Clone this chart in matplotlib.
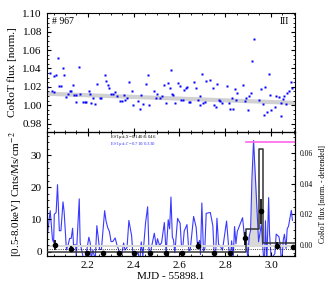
import numpy as np
import matplotlib
matplotlib.use('Agg')
import matplotlib.pyplot as plt
from matplotlib.ticker import MultipleLocator

# CoRoT light curve (time = MJD - 55898.1, normalised flux)
corot_t = [2.023, 2.035, 2.045, 2.050, 2.053, 2.061, 2.067, 2.075, 2.082, 2.091,
           2.096, 2.106, 2.114, 2.120, 2.127, 2.133, 2.137, 2.146, 2.149, 2.162,
           2.166, 2.178, 2.185, 2.191, 2.204, 2.210, 2.214, 2.222, 2.232, 2.239,
           2.251, 2.259, 2.273, 2.279, 2.286, 2.294, 2.301, 2.309, 2.319, 2.327,
           2.338, 2.349, 2.356, 2.362, 2.371, 2.379, 2.391, 2.398, 2.420, 2.426,
           2.433, 2.440, 2.452, 2.461, 2.468, 2.490, 2.499, 2.504, 2.513, 2.522,
           2.534, 2.542, 2.551, 2.557, 2.563, 2.569, 2.574, 2.580, 2.592, 2.603,
           2.609, 2.615, 2.621, 2.627, 2.633, 2.641, 2.647, 2.662, 2.673, 2.679,
           2.688, 2.692, 2.698, 2.705, 2.711, 2.717, 2.735, 2.746, 2.752, 2.758,
           2.764, 2.771, 2.778, 2.788, 2.806, 2.816, 2.823, 2.828, 2.835, 2.841,
           2.847, 2.853, 2.876, 2.888, 2.893, 2.899, 2.905, 2.911, 2.917, 2.924,
           2.946, 2.958, 2.965, 2.971, 2.976, 2.982, 2.990, 2.994, 3.001, 3.017,
           3.023, 3.035, 3.042, 3.046, 3.054, 3.059, 3.066, 3.071, 3.077, 3.089,
           3.094]
corot_flux = [1.0196, 1.0348, 1.0160, 1.0141, 1.0323, 1.0334, 1.0514, 1.0214, 1.0214, 1.0400,
              1.0334, 1.0087, 1.0123, 1.0160, 1.0160, 1.0225, 1.0116, 1.0116, 1.0040, 1.0413,
              1.0127, 1.0040, 1.0033, 1.0040, 1.0160, 1.0123, 1.0022, 1.0073, 1.0011, 1.0232,
              1.0076, 1.0076, 1.0326, 1.0260, 1.0217, 1.0188, 1.0123, 1.0123, 1.0145, 1.0098,
              1.0051, 1.0043, 1.0109, 1.0062, 1.0079, 1.0253, 1.0152, 1.0000, 1.0043, 0.9960,
              1.0109, 1.0014, 1.0232, 1.0334, 0.9997, 1.0160, 1.0073, 1.0123, 1.0079, 1.0095,
              1.0225, 1.0025, 1.0242, 1.0182, 1.0388, 1.0127, 1.0109, 1.0025, 1.0247, 1.0214,
              1.0062, 1.0062, 1.0163, 1.0182, 1.0203, 1.0033, 1.0036, 1.0253, 1.0182, 1.0058,
              1.0095, 1.0003, 1.0337, 1.0022, 1.0040, 1.0268, 1.0272, 1.0185, 0.9997, 0.9978,
              1.0232, 1.0062, 1.0051, 1.0022, 1.0210, 1.0025, 0.9964, 1.0079, 0.9964, 1.0171,
              1.0058, 1.0138, 1.0225, 1.0043, 1.0073, 0.9946, 1.0101, 1.0138, 1.0478, 1.0721,
              1.0062, 1.0174, 1.0014, 0.9891, 1.0196, 0.9924, 1.0345, 1.0109, 0.9949, 0.9978,
              1.0105, 1.0087, 1.0022, 0.9880, 1.0065, 1.0101, 1.0008, 1.0134, 1.0152, 1.0253,
              1.0188]

# linear trend (end points)
trend_t = [2.02, 3.105]
trend_flux = [1.0125, 1.0025]

# X-ray light curve
xray_t = [2.057, 2.127, 2.196, 2.266, 2.334, 2.402, 2.472, 2.541,
          2.611, 2.681, 2.749, 2.819, 2.888, 2.956, 3.026, 3.096]
xray_rate = [2.1, 0.8, -0.3, -0.3, -0.3, -0.3, -0.3, -0.3,
             -0.4, 1.85, -0.4, -0.4, 4.1, 12.5, 1.85, 1.35]
xray_err = [1.5, 0.9, 0, 0, 0, 0, 0, 0,
            0, 1.1, 0, 0, 2.0, 4.0, 1.0, 0.8]

# Bayesian blocks
bb_edges = [2.02, 2.893, 2.950, 2.965, 3.105]
bb_rate = [0.0, 7.0, 32.1, 2.7]

flare_window = (2.893, 2.968)
corot_peak = 0.067

plt.rcParams['font.family'] = 'Liberation Serif'
plt.rcParams['mathtext.fontset'] = 'stix'

fig = plt.figure(figsize=(3.27, 2.91), dpi=100)
ax1 = fig.add_axes([0.143, 0.547, 0.759, 0.407])
ax2 = fig.add_axes([0.143, 0.119, 0.759, 0.428])
ax2r = ax2.twinx()

xlim = (2.02, 3.105)

# top panel
ax1.plot(trend_t, trend_flux, color='0.82', lw=3, zorder=1)
ax1.plot(corot_t, corot_flux, 's', color='#0000ff', ms=2, mec='none', zorder=2)
ax1.set_xlim(xlim)
ax1.set_ylim(0.971, 1.10)
ax1.set_ylabel('CoRoT flux [norm.]', fontsize=8)
ax1.yaxis.set_minor_locator(MultipleLocator(0.005))
ax1.xaxis.set_major_locator(MultipleLocator(0.2))
ax1.xaxis.set_minor_locator(MultipleLocator(0.05))
ax1.set_yticks(np.arange(0.98, 1.101, 0.02))
ax1.set_yticklabels(['%.2f' % v for v in np.arange(0.98, 1.101, 0.02)])
ax1.tick_params(labelbottom=False)
ax1.text(0.02, 0.97, '# 967', transform=ax1.transAxes, fontsize=7, va='top', ha='left')
ax1.text(0.975, 0.97, 'III', transform=ax1.transAxes, fontsize=7, va='top', ha='right')

# bottom panel
t = np.array(corot_t)
trend = np.interp(t, trend_t, trend_flux)
det = np.array(corot_flux) - trend
m = (t >= flare_window[0]) & (t <= flare_window[1])
ax2r.fill_between(t[m], 0, det[m], color='0.85', lw=0, zorder=1)
ax2r.plot(t, det, color='#3a3aff', lw=0.8, zorder=2)
ax2r.plot([flare_window[0], xlim[1]], [corot_peak, corot_peak], color='#ff66ee', lw=1.2)
ax2r.set_ylim(-0.0072, 0.0736)
ax2r.yaxis.set_major_locator(MultipleLocator(0.02))
ax2r.yaxis.set_minor_locator(MultipleLocator(0.005))
ax2r.set_ylabel('CoRoT flux [norm. - detrended]', fontsize=5.5)
ax2r.tick_params(which='both', direction='in', labelsize=5.5)
ax2r.tick_params(which='major', length=3)
ax2r.tick_params(which='minor', length=1.5)

ax2.set_zorder(ax2r.get_zorder() + 1)
ax2.patch.set_visible(False)
ax2.axhspan(1.4, 2.1, color='0.85', lw=0, zorder=1)
ax2.axhline(0.9, color='k', lw=0.6, ls=':', zorder=2)
bb_y = bb_rate + [bb_rate[-1]]
ax2.step(bb_edges, bb_y, where='post', color='0.2', lw=1.1, zorder=3)
ax2.errorbar(xray_t, xray_rate, yerr=xray_err, fmt='o', color='k', ms=3,
             elinewidth=1.2, capsize=0, zorder=4)
ax2.set_xlim(xlim)
ax2.set_ylim(-1.5, 37.3)
ax2.yaxis.set_major_locator(MultipleLocator(10))
ax2.yaxis.set_minor_locator(MultipleLocator(2))
ax2.xaxis.set_major_locator(MultipleLocator(0.2))
ax2.xaxis.set_minor_locator(MultipleLocator(0.05))
ax2.set_xlabel('MJD - 55898.1', fontsize=8, labelpad=1)
ax2.set_ylabel(r'[0.5-8.0keV] Cnts/Ms/cm$^{-2}$', fontsize=8)
ax2.text(2.297, 36.9, r'E$_0$/I$_{\rm peak,X}$=0.140/0.046', fontsize=3.5,
         color='k', va='top')
ax2.text(2.297, 34.6, r'E$_0$/I$_{\rm peak,C}$=0.710/0.330', fontsize=3.5,
         color='#3a3aff', va='top')

for ax in (ax1, ax2):
    ax.tick_params(which='both', direction='in', top=True, labelsize=8)
    ax.tick_params(which='major', length=3)
    ax.tick_params(which='minor', length=1.5)
ax1.tick_params(which='both', right=True)
ax2.tick_params(which='both', right=False)

fig.savefig('out.png', dpi=100)
